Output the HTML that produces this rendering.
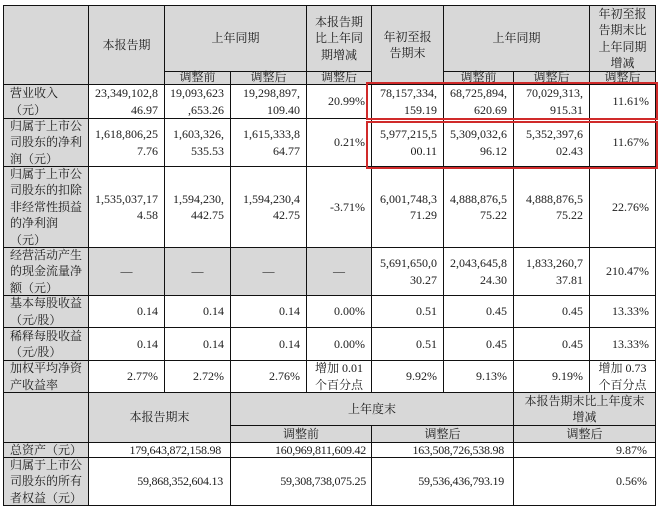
<!DOCTYPE html>
<html>
<head>
<meta charset="utf-8">
<style>
html,body{margin:0;padding:0;background:#fff;}
body{width:660px;height:509px;position:relative;overflow:hidden;
font-family:"Liberation Serif","Noto Serif CJK SC","Noto Sans CJK SC",serif;color:#1c1c1c;}
.c{position:absolute;box-sizing:border-box;border:1px solid #111;display:flex;align-items:center;
font-size:12px;line-height:16.5px;white-space:nowrap;background:#fff;}
.l{justify-content:flex-start;padding-left:6px;text-align:left;}
.r{justify-content:flex-end;padding-right:6px;text-align:right;}
.m{justify-content:center;text-align:center;}
.g{background:#d8d8d8;}
.s{line-height:12px;padding-bottom:3px;}
.n{letter-spacing:-0.25px;}
.box{position:absolute;box-sizing:border-box;border:2px solid #d02a2a;}
</style>
</head>
<body>
<!-- Table 1 header -->
<div class="c g" style="left:3px;top:5px;width:86px;height:80px;"></div>
<div class="c g m" style="left:88px;top:5px;width:77px;height:80px;">本报告期</div>
<div class="c g m" style="left:164px;top:5px;width:143px;height:67px;">上年同期</div>
<div class="c g m s" style="left:164px;top:71px;width:67px;height:14px;">调整前</div>
<div class="c g m s" style="left:230px;top:71px;width:77px;height:14px;">调整后</div>
<div class="c g m" style="left:306px;top:5px;width:66px;height:67px;">本报告期<br>比上年同<br>期增减</div>
<div class="c g m s" style="left:306px;top:71px;width:66px;height:14px;">调整后</div>
<div class="c g m" style="left:371px;top:5px;width:73px;height:80px;">年初至报<br>告期末</div>
<div class="c g m" style="left:443px;top:5px;width:147px;height:67px;">上年同期</div>
<div class="c g m s" style="left:443px;top:71px;width:71px;height:14px;">调整前</div>
<div class="c g m s" style="left:513px;top:71px;width:77px;height:14px;">调整后</div>
<div class="c g m" style="left:589px;top:5px;width:67px;height:67px;">年初至报<br>告期末比<br>上年同期<br>增减</div>
<div class="c g m s" style="left:589px;top:71px;width:67px;height:14px;">调整后</div>

<!-- Row 1 -->
<div class="c g l" style="left:3px;top:84px;width:86px;height:35px;">营业收入<br>（元）</div>
<div class="c r" style="left:88px;top:84px;width:77px;height:35px;">23,349,102,8<br>46.97</div>
<div class="c r" style="left:164px;top:84px;width:67px;height:35px;">19,093,623<br>,653.26</div>
<div class="c r" style="left:230px;top:84px;width:77px;height:35px;">19,298,897,<br>109.40</div>
<div class="c r" style="left:306px;top:84px;width:66px;height:35px;">20.99%</div>
<div class="c r" style="left:371px;top:84px;width:73px;height:35px;">78,157,334,<br>159.19</div>
<div class="c r" style="left:443px;top:84px;width:71px;height:35px;">68,725,894,<br>620.69</div>
<div class="c r" style="left:513px;top:84px;width:77px;height:35px;">70,029,313,<br>915.31</div>
<div class="c r" style="left:589px;top:84px;width:67px;height:35px;">11.61%</div>

<!-- Row 2 -->
<div class="c g l" style="left:3px;top:118px;width:86px;height:49px;">归属于上市公<br>司股东的净利<br>润（元）</div>
<div class="c r" style="left:88px;top:118px;width:77px;height:49px;">1,618,806,25<br>7.76</div>
<div class="c r" style="left:164px;top:118px;width:67px;height:49px;">1,603,326,<br>535.53</div>
<div class="c r" style="left:230px;top:118px;width:77px;height:49px;">1,615,333,8<br>64.77</div>
<div class="c r" style="left:306px;top:118px;width:66px;height:49px;">0.21%</div>
<div class="c r" style="left:371px;top:118px;width:73px;height:49px;">5,977,215,5<br>00.11</div>
<div class="c r" style="left:443px;top:118px;width:71px;height:49px;">5,309,032,6<br>96.12</div>
<div class="c r" style="left:513px;top:118px;width:77px;height:49px;">5,352,397,6<br>02.43</div>
<div class="c r" style="left:589px;top:118px;width:67px;height:49px;">11.67%</div>

<!-- Row 3 -->
<div class="c g l" style="left:3px;top:166px;width:86px;height:82px;">归属于上市公<br>司股东的扣除<br>非经常性损益<br>的净利润<br>（元）</div>
<div class="c r" style="left:88px;top:166px;width:77px;height:82px;">1,535,037,17<br>4.58</div>
<div class="c r" style="left:164px;top:166px;width:67px;height:82px;">1,594,230,<br>442.75</div>
<div class="c r" style="left:230px;top:166px;width:77px;height:82px;">1,594,230,4<br>42.75</div>
<div class="c r" style="left:306px;top:166px;width:66px;height:82px;">-3.71%</div>
<div class="c r" style="left:371px;top:166px;width:73px;height:82px;">6,001,748,3<br>71.29</div>
<div class="c r" style="left:443px;top:166px;width:71px;height:82px;">4,888,876,5<br>75.22</div>
<div class="c r" style="left:513px;top:166px;width:77px;height:82px;">4,888,876,5<br>75.22</div>
<div class="c r" style="left:589px;top:166px;width:67px;height:82px;">22.76%</div>

<!-- Row 4 -->
<div class="c g l" style="left:3px;top:247px;width:86px;height:49px;">经营活动产生<br>的现金流量净<br>额（元）</div>
<div class="c g m" style="left:88px;top:247px;width:77px;height:49px;">—</div>
<div class="c g m" style="left:164px;top:247px;width:67px;height:49px;">—</div>
<div class="c g m" style="left:230px;top:247px;width:77px;height:49px;">—</div>
<div class="c g m" style="left:306px;top:247px;width:66px;height:49px;">—</div>
<div class="c r" style="left:371px;top:247px;width:73px;height:49px;">5,691,650,0<br>30.27</div>
<div class="c r" style="left:443px;top:247px;width:71px;height:49px;">2,043,645,8<br>24.30</div>
<div class="c r" style="left:513px;top:247px;width:77px;height:49px;">1,833,260,7<br>37.81</div>
<div class="c r" style="left:589px;top:247px;width:67px;height:49px;">210.47%</div>

<!-- Row 5 -->
<div class="c g l" style="left:3px;top:295px;width:86px;height:33px;">基本每股收益<br>（元/股）</div>
<div class="c r" style="left:88px;top:295px;width:77px;height:33px;">0.14</div>
<div class="c r" style="left:164px;top:295px;width:67px;height:33px;">0.14</div>
<div class="c r" style="left:230px;top:295px;width:77px;height:33px;">0.14</div>
<div class="c r" style="left:306px;top:295px;width:66px;height:33px;">0.00%</div>
<div class="c r" style="left:371px;top:295px;width:73px;height:33px;">0.51</div>
<div class="c r" style="left:443px;top:295px;width:71px;height:33px;">0.45</div>
<div class="c r" style="left:513px;top:295px;width:77px;height:33px;">0.45</div>
<div class="c r" style="left:589px;top:295px;width:67px;height:33px;">13.33%</div>

<!-- Row 6 -->
<div class="c g l" style="left:3px;top:327px;width:86px;height:34px;">稀释每股收益<br>（元/股）</div>
<div class="c r" style="left:88px;top:327px;width:77px;height:34px;">0.14</div>
<div class="c r" style="left:164px;top:327px;width:67px;height:34px;">0.14</div>
<div class="c r" style="left:230px;top:327px;width:77px;height:34px;">0.14</div>
<div class="c r" style="left:306px;top:327px;width:66px;height:34px;">0.00%</div>
<div class="c r" style="left:371px;top:327px;width:73px;height:34px;">0.51</div>
<div class="c r" style="left:443px;top:327px;width:71px;height:34px;">0.45</div>
<div class="c r" style="left:513px;top:327px;width:77px;height:34px;">0.45</div>
<div class="c r" style="left:589px;top:327px;width:67px;height:34px;">13.33%</div>

<!-- Row 7 -->
<div class="c g l" style="left:3px;top:360px;width:86px;height:33px;">加权平均净资<br>产收益率</div>
<div class="c r" style="left:88px;top:360px;width:77px;height:33px;">2.77%</div>
<div class="c r" style="left:164px;top:360px;width:67px;height:33px;">2.72%</div>
<div class="c r" style="left:230px;top:360px;width:77px;height:33px;">2.76%</div>
<div class="c m" style="left:306px;top:360px;width:66px;height:33px;">增加 0.01<br>个百分点</div>
<div class="c r" style="left:371px;top:360px;width:73px;height:33px;">9.92%</div>
<div class="c r" style="left:443px;top:360px;width:71px;height:33px;">9.13%</div>
<div class="c r" style="left:513px;top:360px;width:77px;height:33px;">9.19%</div>
<div class="c m" style="left:589px;top:360px;width:67px;height:33px;">增加 0.73<br>个百分点</div>

<!-- Table 2 header -->
<div class="c g" style="left:3px;top:392px;width:86px;height:51px;"></div>
<div class="c g m" style="left:88px;top:392px;width:143px;height:51px;">本报告期末</div>
<div class="c g m" style="left:230px;top:392px;width:284px;height:34px;">上年度末</div>
<div class="c g m" style="left:230px;top:425px;width:142px;height:18px;">调整前</div>
<div class="c g m" style="left:371px;top:425px;width:143px;height:18px;">调整后</div>
<div class="c g m" style="left:513px;top:392px;width:143px;height:34px;">本报告期末比上年度末<br>增减</div>
<div class="c g m" style="left:513px;top:425px;width:143px;height:18px;">调整后</div>

<!-- Table 2 rows -->
<div class="c g l" style="left:3px;top:442px;width:86px;height:16px;">总资产（元）</div>
<div class="c r n" style="left:88px;top:442px;width:143px;height:16px;padding-right:9px;">179,643,872,158.98</div>
<div class="c r n" style="left:230px;top:442px;width:142px;height:16px;padding-right:5px;">160,969,811,609.42</div>
<div class="c r n" style="left:371px;top:442px;width:143px;height:16px;padding-right:9px;">163,508,726,538.98</div>
<div class="c r" style="left:513px;top:442px;width:143px;height:16px;padding-right:8px;">9.87%</div>

<div class="c g l" style="left:3px;top:457px;width:86px;height:49px;">归属于上市公<br>司股东的所有<br>者权益（元）</div>
<div class="c r n" style="left:88px;top:457px;width:143px;height:49px;padding-right:7px;">59,868,352,604.13</div>
<div class="c r n" style="left:230px;top:457px;width:142px;height:49px;padding-right:5px;">59,308,738,075.25</div>
<div class="c r n" style="left:371px;top:457px;width:143px;height:49px;padding-right:9px;">59,536,436,793.19</div>
<div class="c r" style="left:513px;top:457px;width:143px;height:49px;padding-right:8px;">0.56%</div>

<!-- Red highlight boxes -->
<div class="box" style="left:366px;top:82px;width:292px;height:38px;"></div>
<div class="box" style="left:366px;top:121px;width:292px;height:48px;"></div>
</body>
</html>
